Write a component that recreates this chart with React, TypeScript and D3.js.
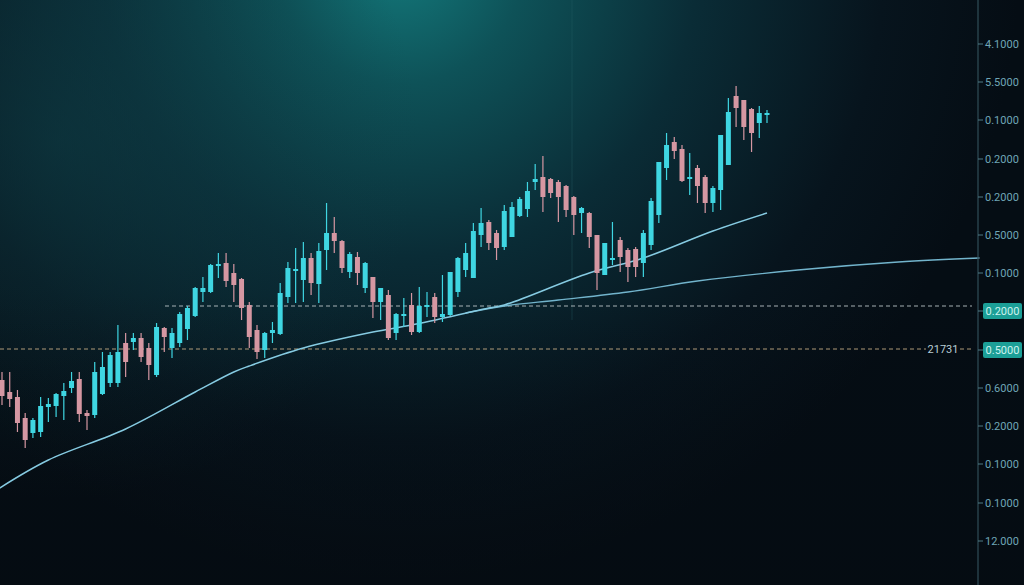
import React from "react";
import * as d3 from "d3";

// ---- data (price index values) ----
const opens = [20.5,19.3,18.8,16.7,15.2,15.3,17.8,17.9,18.9,19.7,20.6,17.2,17.0,19.1,20.2,20.2,24.2,24.3,24.7,23.7,21.0,25.7,23.7,24.2,25.6,26.9,29.3,29.3,31.9,32.2,31.2,30.6,28.0,25.5,23.5,25.2,25.1,28.8,31.4,30.5,32.7,30.1,33.5,35.2,34.4,31.3,32.8,29.7,30.8,28.3,29.0,25.2,26.9,28.0,25.3,27.8,28.8,26.8,27.0,29.3,31.5,30.7,35.0,36.3,35.2,33.8,34.8,36.9,37.6,40.3,40.8,40.6,40.3,39.9,38.8,37.2,37.2,35.0,31.0,32.5,34.5,33.5,33.6,32.2,34.0,37.0,41.7,44.3,43.6,40.6,41.7,40.8,38.2,39.5,42.0,48.9,48.5,47.6,46.2,47.0];
const closes = [18.9,18.6,16.2,14.5,16.5,17.9,18.1,19.1,19.4,20.4,17.1,16.9,21.3,21.8,23.0,23.3,22.3,24.7,22.8,22.0,25.8,24.8,25.2,27.1,27.7,29.7,29.7,32.0,32.1,30.4,30.0,27.7,24.8,23.3,25.2,25.5,29.2,31.7,31.6,32.7,30.2,33.4,35.2,34.4,31.7,33.1,31.2,32.2,28.3,29.7,24.7,27.1,27.1,25.3,27.9,28.0,26.8,27.1,31.3,32.7,33.2,35.4,36.2,34.2,33.7,37.4,37.8,38.6,39.4,40.6,38.8,39.2,38.8,37.5,37.0,37.7,34.8,31.2,34.2,32.7,32.8,31.8,31.8,35.2,38.4,42.3,44.0,43.4,40.4,40.8,39.9,38.2,39.7,45.0,47.3,47.7,45.8,45.2,47.2,47.2];
const highs = [21.3,21.3,19.5,17.2,16.7,18.8,18.7,19.2,20.2,21.3,21.3,17.5,22.3,23.3,23.3,26.0,25.2,25.2,25.2,24.2,26.2,25.8,25.7,27.3,27.9,29.8,30.8,32.1,33.2,33.2,32.1,30.7,28.3,26.0,25.3,26.3,30.2,32.3,33.7,34.3,33.2,34.2,38.2,36.8,34.5,33.3,33.3,32.3,30.8,29.7,29.5,27.2,28.7,29.2,29.8,29.3,29.2,31.0,31.3,32.8,34.2,36.2,37.7,36.5,35.5,38.0,38.3,38.8,40.3,42.1,42.9,40.7,40.5,40.0,38.9,37.8,37.3,35.0,34.2,36.3,34.8,33.7,33.8,35.5,38.7,42.3,45.2,44.8,44.0,43.2,42.0,41.0,39.9,45.0,48.7,49.9,48.5,47.7,47.9,47.5];
const lows = [18.0,17.8,15.3,13.7,14.7,14.8,16.3,16.8,16.5,19.2,16.3,15.5,16.7,19.0,19.8,19.8,20.8,23.5,22.3,20.5,20.8,23.3,22.7,23.8,24.5,26.8,28.3,29.2,30.7,29.8,28.3,26.5,23.7,22.6,22.7,24.2,25.0,28.2,28.2,28.3,29.0,28.2,31.5,33.2,31.2,30.7,30.0,29.2,26.7,26.5,24.5,24.5,25.8,25.0,25.2,26.8,26.2,26.3,26.9,28.8,30.8,30.7,33.8,33.5,32.5,33.5,34.8,36.8,36.8,39.5,37.3,38.7,36.3,36.8,35.0,35.2,33.7,29.5,31.0,32.0,31.3,30.3,30.8,30.8,33.5,36.2,40.5,42.6,40.3,39.0,38.2,37.2,37.3,37.5,42.0,45.8,44.5,43.3,44.7,46.2];

// moving averages: [candle index, value]
const ma1Index = [-0.3, 6, 16, 25, 30, 32, 39, 48, 53, 63, 65, 76, 83, 92, 99];
const ma1Values = [9.7, 12.5, 15.6, 19.3, 21.3, 21.9, 23.7, 25.3, 26.0, 27.7, 28.0, 31.2, 32.7, 35.4, 37.2];
const ma2Index = [60, 65, 72, 81, 90, 103, 116, 126.5];
const ma2Values = [27.2, 27.9, 28.5, 29.3, 30.4, 31.5, 32.3, 32.7];

// price axis
const tickValues = [54.1, 50.3, 46.5, 42.6, 38.8, 35.0, 31.2, 27.4, 23.5, 19.7, 15.9, 12.1, 8.2, 4.4];
const tickLabels = ["4.1000","5.5000","0.1000","0.2000","0.2000","0.5000","0.1000","0.2000","0.5000","0.6000","0.2000","0.1000","0.1000","12.000"];
const highlighted = [7, 8];

// horizontal levels
const levelValues = [27.9, 23.6];
const levelLabels = ["", "21731"];

const W = 1024, H = 585;

export default function App() {
  const x = d3.scaleLinear().domain([0, 99]).range([2, 767]);
  const y = d3.scaleLinear().domain([0, 58.5]).range([H, 0]);
  const axisX = 978;
  const bodyW = 5;
  const up = "#3fd6e2";
  const down = "#d597a2";

  const line = d3.line<[number, number]>().x(d => x(d[0])).y(d => y(d[1])).curve(d3.curveCatmullRom.alpha(0.5));
  const ma1 = line(ma1Index.map((v, i) => [v, ma1Values[i]]) as [number, number][]) || "";
  const ma2 = line(ma2Index.map((v, i) => [v, ma2Values[i]]) as [number, number][]) || "";

  return (
    <svg width={W} height={H} style={{ position: "fixed", left: 0, top: 0, display: "block" }} fontFamily="Roboto, sans-serif">
      <defs>
        <radialGradient id="glow" cx="400" cy="-40" r="620" gradientUnits="userSpaceOnUse">
          <stop offset="0" stopColor="#13797b" />
          <stop offset="0.2" stopColor="#0e5258" />
          <stop offset="0.48" stopColor="#0a2c36" />
          <stop offset="0.78" stopColor="#07141d" />
          <stop offset="1" stopColor="#050d14" />
        </radialGradient>
        <radialGradient id="glow2" cx="60" cy="140" r="360" gradientUnits="userSpaceOnUse">
          <stop offset="0" stopColor="#0f3f47" stopOpacity="0.55" />
          <stop offset="1" stopColor="#0f3f47" stopOpacity="0" />
        </radialGradient>
        <linearGradient id="fade" x1="0" y1="0" x2="0" y2="1">
          <stop offset="0.5" stopColor="#050b11" stopOpacity="0" />
          <stop offset="1" stopColor="#050b11" stopOpacity="0.6" />
        </linearGradient>
      </defs>
      <rect width={W} height={H} fill="#050d14" />
      <rect width={W} height={H} fill="url(#glow)" />
      <rect width={W} height={H} fill="url(#glow2)" />
      <rect width={W} height={H} fill="url(#fade)" />

      {/* faint grid line */}
      <line x1={572} x2={572} y1={0} y2={320} stroke="#2a6068" strokeOpacity={0.35} strokeWidth={1} />

      {/* horizontal levels */}
      <line x1={165} x2={972} y1={y(levelValues[0])} y2={y(levelValues[0])} stroke="#c3cdcf" strokeOpacity={0.85} strokeDasharray="4 3" strokeWidth={1} />
      <line x1={0} x2={926} y1={y(levelValues[1])} y2={y(levelValues[1])} stroke="#cdb288" strokeOpacity={0.85} strokeDasharray="4 3" strokeWidth={1} />
      <line x1={960} x2={972} y1={y(levelValues[1])} y2={y(levelValues[1])} stroke="#cdb288" strokeOpacity={0.85} strokeDasharray="4 3" strokeWidth={1} />
      <text x={943} y={y(levelValues[1])} dy="0.35em" textAnchor="middle" fontSize={11} fill="#b9cdd4">{levelLabels[1]}</text>

      {/* moving averages */}
      <path d={ma2} fill="none" stroke="#72b4cc" strokeWidth={1.3} />
      <path d={ma1} fill="none" stroke="#86cbe2" strokeWidth={1.5} />

      {/* candles */}
      {opens.map((o, i) => {
        const c = closes[i];
        const col = c >= o ? up : down;
        const cx = x(i);
        const top = y(Math.max(o, c));
        const bot = y(Math.min(o, c));
        return (
          <g key={i}>
            <line x1={cx} x2={cx} y1={y(highs[i])} y2={y(lows[i])} stroke={col} strokeWidth={1.2} />
            <rect x={cx - bodyW / 2} y={top} width={bodyW} height={Math.max(bot - top, 2)} fill={col} />
          </g>
        );
      })}

      {/* price axis */}
      <line x1={axisX} x2={axisX} y1={0} y2={H} stroke="#2f4d58" strokeWidth={1.2} />
      {tickValues.map((v, i) => {
        const ty = y(v);
        const hl = highlighted.includes(i);
        return (
          <g key={i}>
            <line x1={axisX} x2={axisX + 5} y1={ty} y2={ty} stroke="#4f7a86" strokeWidth={1} />
            {hl ? (
              <g>
                <rect x={983} y={ty - 8} width={39} height={16} rx={2} fill="#1c9f97" />
                <text x={1002.5} y={ty} dy="0.35em" textAnchor="middle" fontSize={11} fill="#cdf3ef">{tickLabels[i]}</text>
              </g>
            ) : (
              <text x={985} y={ty} dy="0.35em" fontSize={11} fill="#6fa6b6">{tickLabels[i]}</text>
            )}
          </g>
        );
      })}
    </svg>
  );
}
